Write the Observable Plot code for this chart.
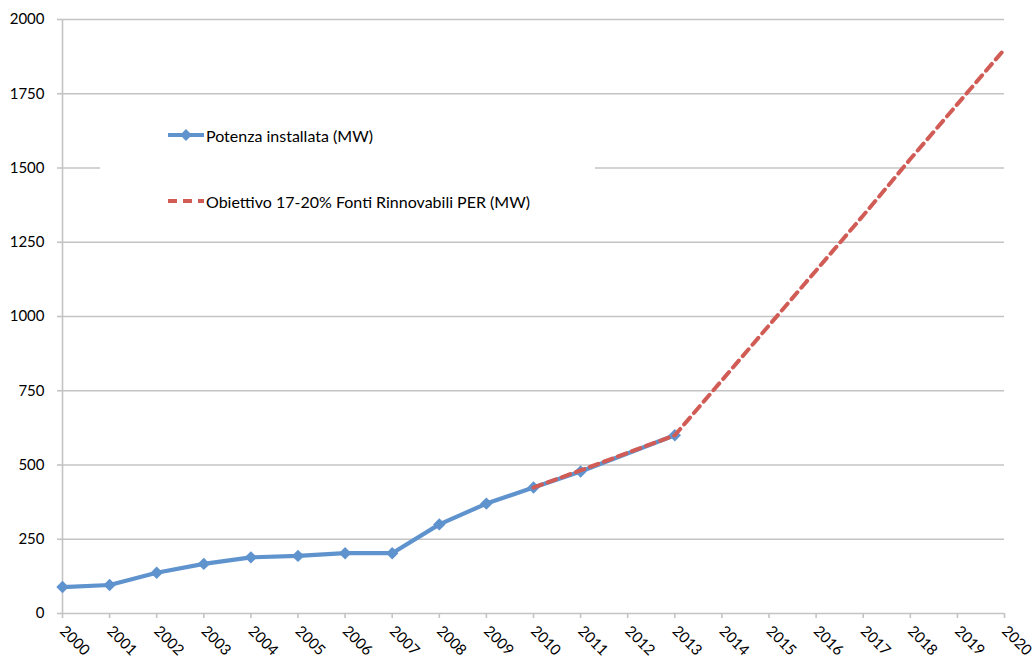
<!DOCTYPE html>
<html>
<head>
<meta charset="utf-8">
<script src="https://cdn.jsdelivr.net/npm/d3@7"></script>
<script src="https://cdn.jsdelivr.net/npm/@observablehq/plot@0.6"></script>
<style>
  html, body { margin: 0; padding: 0; background: #fff; }
  #chart { width: 1035px; height: 662px; }
</style>
</head>
<body>
<div id="chart"></div>
<script>
// ---- data ----
const years = [2000, 2001, 2002, 2003, 2004, 2005, 2006, 2007, 2008, 2009, 2010,
               2011, 2012, 2013, 2014, 2015, 2016, 2017, 2018, 2019, 2020];
const installed = [89, 96, 137, 167, 189, 194, 203, 203, 300, 370, 424,
                   478, null, 600, null, null, null, null, null, null, null];
const target = [null, null, null, null, null, null, null, null, null, null, 424,
                482, 541, 600, 785, 970, 1155, 1340, 1530, 1715, 1900];
const yTicks = [0, 250, 500, 750, 1000, 1250, 1500, 1750, 2000];
const seriesNames = ["Potenza installata (MW)", "Obiettivo 17-20% Fonti Rinnovabili PER (MW)"];

const blue = "#5f93cd";
const red = "#d15c56";
const gridColor = "#c4c4c4";

const blueData = years.map((y, i) => ({year: y, value: installed[i]})).filter(d => d.value != null);
const redData = years.map((y, i) => ({year: y, value: target[i]})).filter(d => d.value != null);

const chart = Plot.plot({
  width: 1035,
  height: 662,
  marginLeft: 62,
  marginRight: 31,
  marginTop: 19,
  marginBottom: 49,
  style: {fontFamily: "Lato, 'Open Sans', sans-serif", fontSize: "15px", color: "#000", background: "#fff"},
  x: {domain: [2000, 2020]},
  y: {domain: [0, 2000]},
  marks: [
    Plot.ruleY(yTicks, {stroke: gridColor, strokeWidth: 1.6}),
    Plot.ruleX([2000], {stroke: gridColor, strokeWidth: 1.6}),
    Plot.axisY(yTicks, {tickSize: 5, tickPadding: 13, tickFormat: d => String(d), stroke: gridColor, strokeWidth: 1.6, fill: "#000", label: null, fontSize: 15}),
    Plot.axisX(years, {tickSize: 5, tickPadding: 10, tickRotate: 45, tickFormat: d => String(d), stroke: gridColor, strokeWidth: 1.6, fill: "#000", label: null, fontSize: 15}),
    Plot.line(blueData, {x: "year", y: "value", stroke: blue, strokeWidth: 4.2}),
    Plot.dot(blueData, {x: "year", y: "value", symbol: "diamond2", r: 5.6, fill: blue, stroke: "none"}),
    Plot.line(redData, {x: "year", y: "value", stroke: red, strokeWidth: 4, strokeDasharray: "9,6"})
  ]
});

document.getElementById("chart").appendChild(chart);

// ---- legend box (inside plot area) ----
const svg = d3.select(chart);
const lg = svg.append("g")
  .attr("font-family", "Lato, 'Open Sans', sans-serif")
  .attr("font-size", 16)
  .attr("text-anchor", "start");
lg.append("rect").attr("x", 100).attr("y", 104).attr("width", 495).attr("height", 126).attr("fill", "#fff");
// item 1
lg.append("line").attr("x1", 168).attr("x2", 204).attr("y1", 135).attr("y2", 135)
  .attr("stroke", blue).attr("stroke-width", 4);
lg.append("path").attr("d", d3.symbol(d3.symbolSquare, 70)()).attr("transform", "translate(186,135) rotate(45)")
  .attr("fill", blue);
lg.append("text").attr("x", 206).attr("y", 136).attr("dy", "0.35em").attr("fill", "#000").attr("text-anchor", "start").text(seriesNames[0]);
// item 2
lg.append("line").attr("x1", 168).attr("x2", 204).attr("y1", 201).attr("y2", 201)
  .attr("stroke", red).attr("stroke-width", 4).attr("stroke-dasharray", "9,6");
lg.append("text").attr("x", 206).attr("y", 202).attr("dy", "0.35em").attr("fill", "#000").attr("text-anchor", "start").text(seriesNames[1]);
</script>
</body>
</html>
